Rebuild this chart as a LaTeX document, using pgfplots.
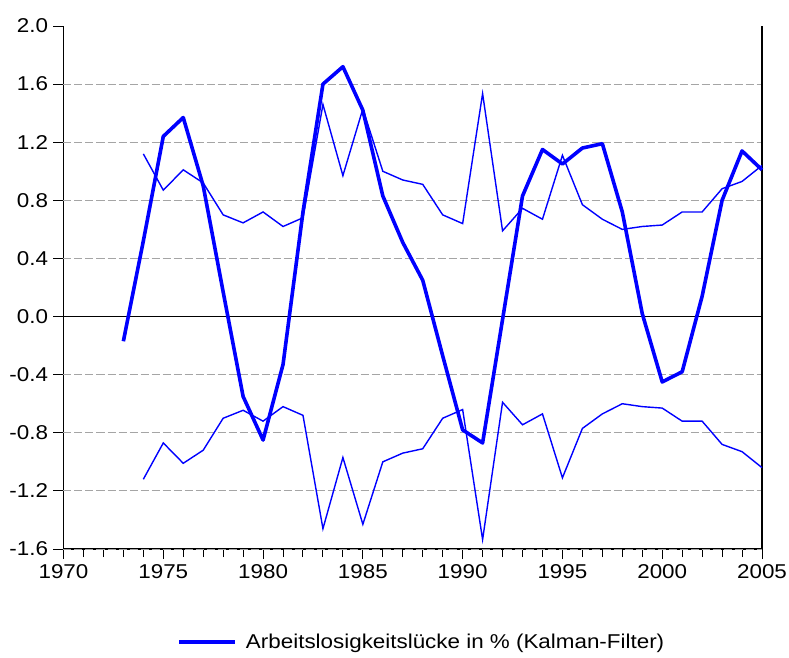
\documentclass[border=0pt]{standalone}
\usepackage{fontspec}
\setmainfont{Liberation Sans}[FakeStretch=1.12]
\usepackage{pgfplots}
\pgfplotsset{compat=1.18}
\usepackage{pgfplotstable}
\definecolor{eblue}{RGB}{0,0,255}
\definecolor{egrid}{RGB}{165,165,165}

\pgfplotstableread{
year gap
1973 -0.17
1974 0.52
1975 1.24
1976 1.37
1977 0.90
1978 0.17
1979 -0.55
1980 -0.85
1981 -0.33
1982 0.72
1983 1.60
1984 1.72
1985 1.42
1986 0.83
1987 0.51
1988 0.25
1989 -0.27
1990 -0.78
1991 -0.87
1992 -0.02
1993 0.83
1994 1.15
1995 1.05
1996 1.16
1997 1.19
1998 0.72
1999 0.02
2000 -0.45
2001 -0.38
2002 0.14
2003 0.80
2004 1.14
2005 1.01
}\gapdata

\pgfplotstableread{
year up lo
1974 1.12 -1.12
1975 0.87 -0.87
1976 1.01 -1.01
1977 0.92 -0.92
1978 0.70 -0.70
1979 0.645 -0.645
1980 0.72 -0.72
1981 0.62 -0.62
1982 0.68 -0.68
1983 1.46 -1.46
1984 0.97 -0.97
1985 1.43 -1.43
1986 1.00 -1.00
1987 0.94 -0.94
1988 0.91 -0.91
1989 0.70 -0.70
1990 0.64 -0.64
1991 1.535 -1.535
1992 0.59 -0.59
1993 0.745 -0.745
1994 0.67 -0.67
1995 1.11 -1.11
1996 0.77 -0.77
1997 0.67 -0.67
1998 0.60 -0.60
1999 0.62 -0.62
2000 0.63 -0.63
2001 0.72 -0.72
2002 0.72 -0.72
2003 0.88 -0.88
2004 0.93 -0.93
2005 1.04 -1.04
}\banddata

\begin{document}
\begin{tikzpicture}
\path[use as bounding box] (-63.5pt,-108pt) rectangle (725.5pt,549pt);
\begin{axis}[
  anchor=south west, at={(0pt,0pt)},
  scale only axis,
  width=698.5pt, height=523pt,
  xmin=1970, xmax=2005,
  ymin=-1.6, ymax=2.0,
  axis lines*=left,
  axis line style={black, line width=1.3pt},
  xtick={1970,1975,...,2005},
  minor x tick num=4,
  ytick={-1.6,-1.2,...,2.01},
  tick align=outside,
  major tick length=10pt,
  minor tick length=8pt,
  tick style={black, line width=1pt},
  /pgf/number format/assume math mode=true,
  font=\fontsize{20}{24}\selectfont,
  x tick label style={/pgf/number format/1000 sep={}, yshift=-2pt},
  y tick label style={/pgf/number format/fixed, /pgf/number format/fixed zerofill, /pgf/number format/precision=1, xshift=-2pt},
  clip=false,
  legend style={at={(0.513,-0.178)}, anchor=center, draw=none, fill=none,
    font=\fontsize{20}{24}\selectfont},
  legend image code/.code={\draw[#1] (0pt,0pt) -- (56pt,0pt); \path (63pt,0pt);},
]
\foreach \yy in {-1.6,-1.2,-0.8,-0.4,0.4,0.8,1.2,1.6} {
  \edef\tmp{\noexpand\draw[egrid, line width=1pt, dash pattern=on 8pt off 3pt] (axis cs:1970,\yy) -- (axis cs:2005,\yy);}
  \tmp
}
\draw[black, line width=1.3pt] (axis cs:1970,0) -- (axis cs:2005,0);
\draw[black, line width=1.3pt] (rel axis cs:1,0) -- (rel axis cs:1,1);
\addplot[eblue, line width=1.4pt, forget plot] table[x=year, y=up] {\banddata};
\addplot[eblue, line width=1.4pt, forget plot] table[x=year, y=lo] {\banddata};
\addplot[eblue, line width=3.6pt, line join=round] table[x=year, y=gap] {\gapdata};
\addlegendentry{Arbeitslosigkeitslücke in \% (Kalman-Filter)}
\end{axis}
\end{tikzpicture}
\end{document}
